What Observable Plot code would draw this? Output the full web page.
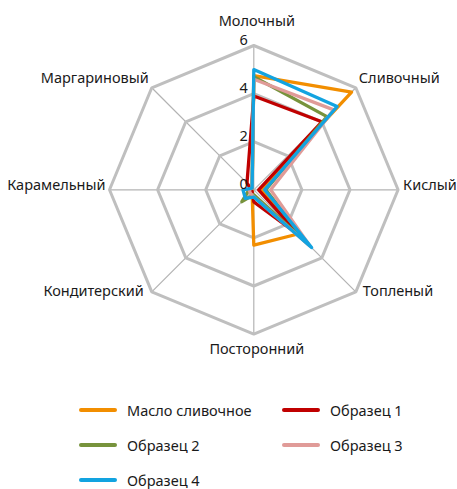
<!DOCTYPE html>
<html>
<head>
<meta charset="utf-8">
<script src="https://cdn.jsdelivr.net/npm/d3@7"></script>
<script src="https://cdn.jsdelivr.net/npm/@observablehq/plot@0.6"></script>
<style>
  html, body { margin: 0; padding: 0; background: #fff; }
  body { width: 457px; height: 489px; overflow: hidden; position: relative; font-family: "Noto Sans", sans-serif; }
  #legend { position: absolute; left: 79px; top: 392px; display: grid; grid-template-columns: 203px 180px; grid-auto-rows: 35px; }
  .item { display: flex; align-items: center; font-size: 14.5px; color: #1a1a1a; white-space: nowrap; }
  .sw { width: 38px; height: 4px; border-radius: 2px; margin-right: 10px; }
</style>
</head>
<body>
<div id="chart"></div>
<div id="legend"></div>
<script>
const categories = ["Молочный","Сливочный","Кислый","Топленый","Посторонний","Кондитерский","Карамельный","Маргариновый"];
const seriesNames = ["Масло сливочное","Образец 1","Образец 2","Образец 3","Образец 4"];
const butter  = [4.75, 5.75, 0.3, 2.6, 2.3, 0.1, 0.1, 0.1];
const sample1 = [3.9, 4.0, 0.2, 2.7, 0.5, 0.1, 0.1, 0.4];
const sample2 = [4.7, 4.3, 0.5, 3.2, 0.2, 0.7, 0.2, 0.1];
const sample3 = [4.6, 4.7, 0.7, 3.3, 0.3, 0.2, 0.2, 0.1];
const sample4 = [5.0, 4.9, 0.45, 3.4, 0.3, 0.5, 0.45, 0.1];
const seriesColors = ["#f28e00","#c00000","#77933c","#e09b98","#12a3e0"];
const tickValues = [0, 2, 4, 6];
const gridLevels = [2, 4, 6];

const allSeries = [butter, sample1, sample2, sample3, sample4];
const n = categories.length;
const ang = i => i * 2 * Math.PI / n;
const px = (v, i) => v * Math.sin(ang(i));
const py = (v, i) => v * Math.cos(ang(i));

const rows = [];
allSeries.forEach((vals, s) => vals.forEach((v, i) => rows.push({series: seriesNames[s], i, v, x: px(v, i), y: py(v, i)})));
const grid = [];
gridLevels.forEach(l => categories.forEach((c, i) => grid.push({level: l, x: px(l, i), y: py(l, i)})));
const spokes = categories.map((c, i) => ({x2: px(6, i), y2: py(6, i), i}));
const labels = categories.map((c, i) => ({text: c, x: px(6, i), y: py(6, i), i}));

const W = 457, H = 390, cx = 253.3, cy = 189.3, unit = 24.05;
const font = "'Noto Sans', sans-serif";
const labelOffsets = [
  {anchor: "middle", dx: 3, dy: -24},
  {anchor: "start", dx: 3, dy: -9},
  {anchor: "start", dx: 5, dy: -4},
  {anchor: "start", dx: 7, dy: 0},
  {anchor: "middle", dx: 3, dy: 15},
  {anchor: "end", dx: -8, dy: 0},
  {anchor: "end", dx: -4, dy: -4},
  {anchor: "end", dx: -3, dy: -9}
];

const chart = Plot.plot({
  width: W, height: H,
  margin: 0,
  x: {domain: [-cx / unit, (W - cx) / unit], axis: null},
  y: {domain: [-(H - cy) / unit, cy / unit], axis: null},
  color: {domain: seriesNames, range: seriesColors},
  style: {fontFamily: font, fontSize: "14.5px", overflow: "visible", background: "white"},
  marks: [
    Plot.link(spokes, {x1: 0, y1: 0, x2: "x2", y2: "y2", stroke: "#b3b3b3", strokeWidth: 1.2}),
    Plot.line(grid, {x: "x", y: "y", z: "level", curve: "linear-closed", stroke: "#bfbfbf", strokeWidth: 3, strokeLinejoin: "miter"}),
    Plot.line(rows, {x: "x", y: "y", z: "series", stroke: "series", curve: "linear-closed", strokeWidth: 3.3, strokeLinejoin: "round"}),
    Plot.text(tickValues, {x: 0, y: d => d, text: d => String(d), textAnchor: "end", dx: -6, dy: -5, fontSize: 14.5, fill: "#1a1a1a"}),
    ...labelOffsets.map((o, k) => Plot.text(labels.filter(d => d.i === k), {x: "x", y: "y", text: "text", textAnchor: o.anchor, dx: o.dx, dy: o.dy, fontSize: 14.5, fill: "#1a1a1a"}))
  ]
});
document.getElementById("chart").appendChild(chart);

const legend = document.getElementById("legend");
seriesNames.forEach((name, s) => {
  const item = document.createElement("div");
  item.className = "item";
  const sw = document.createElement("span");
  sw.className = "sw";
  sw.style.background = seriesColors[s];
  item.appendChild(sw);
  item.appendChild(document.createTextNode(name));
  legend.appendChild(item);
});
</script>
</body>
</html>
